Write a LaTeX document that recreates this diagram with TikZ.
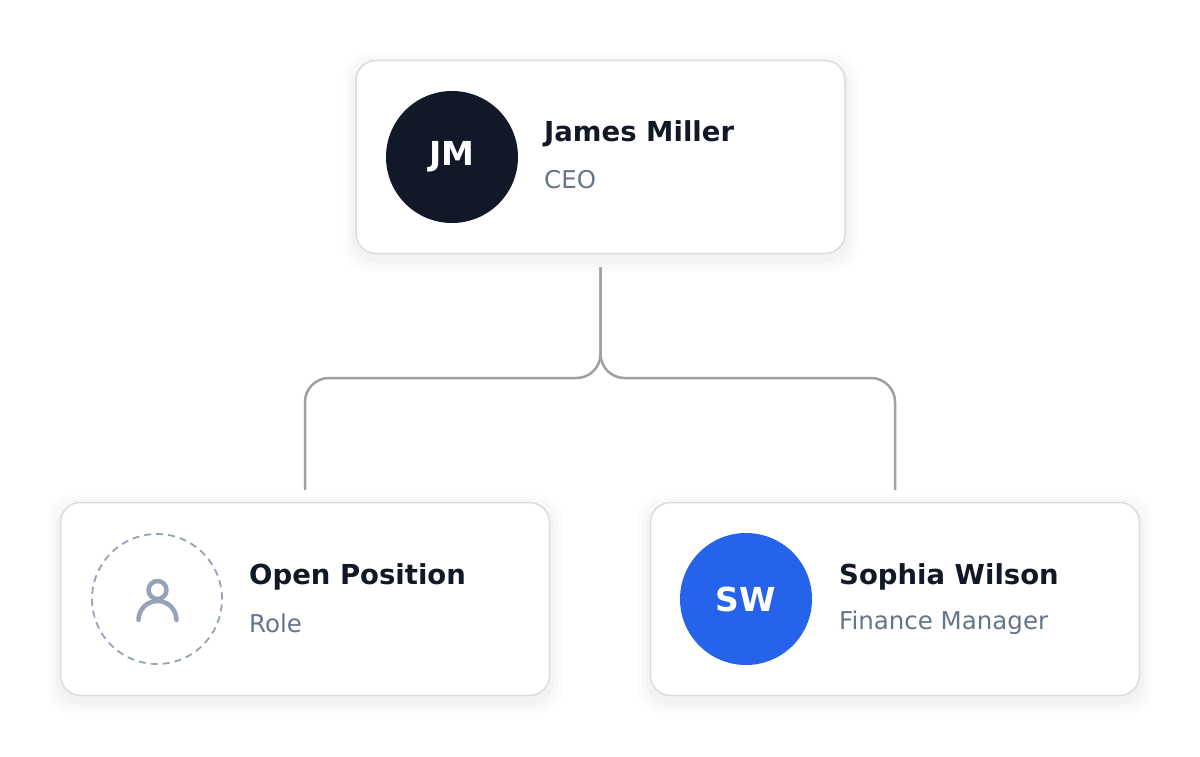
\documentclass[tikz,border=0pt]{standalone}
\usepackage{fontspec}
\setmainfont{DejaVu Sans}
\definecolor{ink}{HTML}{111827}
\definecolor{sub}{HTML}{64748B}
\definecolor{brd}{HTML}{DCDCDC}
\definecolor{blu}{HTML}{2563EB}
\definecolor{icn}{HTML}{94A3B8}
\definecolor{lnk}{HTML}{A0A0A0}
\begin{document}
\begin{tikzpicture}[x=1pt,y=-1pt,
 card/.style={draw=brd,line width=1.5pt,fill=white,rounded corners=20pt,minimum width=489pt,minimum height=193pt,inner sep=0pt},
 avatar/.style={circle,minimum size=132pt,inner sep=0pt,text=white,font=\fontsize{33}{33}\selectfont\bfseries},
 nm/.style={anchor=west,text=ink,font=\fontsize{27.5}{27.5}\selectfont\bfseries,inner sep=0pt},
 rl/.style={anchor=west,text=sub,font=\fontsize{24.5}{24.5}\selectfont,inner sep=0pt},
 link/.style={draw=lnk,line width=2.5pt,rounded corners=24pt}]
\useasboundingbox (0,0) rectangle (1200,757);
\foreach \cx/\cy in {600.5/157,305/599,895/599}{
 \foreach \i/\o in {12/0.012,8/0.015,4/0.018}{
  \fill[black,opacity=\o,rounded corners=24pt] (\cx-245-\i,\cy-97-\i+5) rectangle (\cx+245+\i,\cy+97+\i+5);}}
\node[card] (top) at (600.5,157) {};
\node[card] (left) at (305,599) {};
\node[card] (right) at (895,599) {};
\node[avatar,fill=ink] (jm) at (452,157) {JM};
\node[nm] (jmn) at (544,134) {James Miller};
\node[rl] (jmr) at (544,180) {CEO};
\node[circle,draw=icn,dashed,dash pattern=on 7pt off 5pt,line width=1.8pt,minimum size=130pt,inner sep=0pt] (op) at (157,599) {};
\draw[icn,line width=4.5pt] (157.5,590) circle (9);
\draw[icn,line width=4.5pt,line cap=round] (138.5,620) arc[start angle=180,end angle=360,radius=19];
\node[nm] (opn) at (249,577) {Open Position};
\node[rl] (opr) at (249,623) {Role};
\node[avatar,fill=blu] (sw) at (746,599) {SW};
\node[nm] (swn) at (839,577) {Sophia Wilson};
\node[rl] (swr) at (839,623) {Finance Manager};
\coordinate (s) at ([yshift=-13pt]top.south);
\coordinate (l) at ([yshift=12pt]left.north);
\coordinate (r) at ([yshift=12pt]right.north);
\draw[link] (s) |- (l |- 0,378) -- (l);
\draw[link] (s) |- (r |- 0,378) -- (r);
\end{tikzpicture}
\end{document}
